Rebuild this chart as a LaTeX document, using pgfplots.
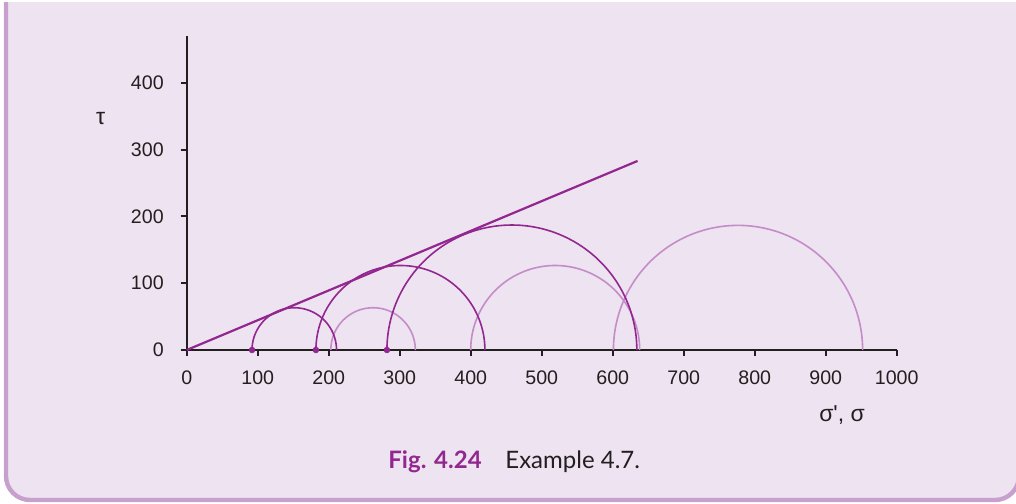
\documentclass[border=0pt]{standalone}
\usepackage{pgfplots}
\pgfplotsset{compat=1.18}
\usepackage{fontspec}
\setmainfont{Liberation Sans}
\newfontfamily\rawsans{Liberation Sans}
\newfontfamily\capfont{Lato}
\definecolor{bg}{RGB}{238,227,240}
\definecolor{frame}{RGB}{200,160,205}
\definecolor{dpurple}{RGB}{146,39,143}
\definecolor{lpurple}{RGB}{196,140,200}
\definecolor{axcol}{RGB}{35,31,32}
\begin{document}
\begin{tikzpicture}[x=1bp,y=1bp]
\useasboundingbox (0,0) rectangle (508,251.5);
\fill[white] (0,0) rectangle (508,251.5);
\begin{scope}
\clip (0,0) rectangle (508,250.3);
\filldraw[fill=bg, draw=frame, line width=2.2bp, rounded corners=12bp]
  (3,260) -- (3,1.5) -- (509.5,1.5) -- (509.5,260);
\end{scope}
\begin{axis}[
  at={(93.35bp,76.5bp)}, anchor=south west,
  scale only axis, width=355bp, height=157bp,
  xmin=0, xmax=1000, ymin=0, ymax=470,
  axis lines=left,
  axis line style={-, line width=1.1bp, axcol},
  xtick={0,100,...,1000}, ytick={0,100,...,400},
  tick align=outside, major tick length=3bp,
  tick style={line width=1bp, axcol},
  /pgf/number format/assume math mode=true,
  /pgf/number format/1000 sep={},
  tick label style={font=\fontsize{9.8bp}{11bp}\selectfont, text=axcol},
  xticklabel style={yshift=-4bp},
  yticklabel style={xshift=-5bp},
  xlabel={\rawsans σ', σ}, ylabel={τ},
  every axis x label/.style={at={(axis description cs:0.923,-0.207)}, anchor=center, font=\fontsize{11.5bp}{13bp}\selectfont, text=axcol},
  every axis y label/.style={at={(axis description cs:-0.121,0.738)}, anchor=center, font=\fontsize{11.5bp}{13bp}\selectfont, text=axcol},
  clip=false,
]
% Mohr circles (total stress), drawn as circles on paper
\addplot[lpurple, line width=0.8bp, domain=0:180, samples=91] ({262.5+59.5*cos(x)}, {1.063*59.5*sin(x)});
\addplot[lpurple, line width=0.8bp, domain=0:180, samples=91] ({519+119*cos(x)}, {1.063*119*sin(x)});
\addplot[lpurple, line width=0.8bp, domain=0:180, samples=91] ({776.5+175.5*cos(x)}, {1.063*175.5*sin(x)});
% Mohr circles (effective stress)
\addplot[dpurple, line width=0.8bp, domain=0:180, samples=91] ({151.5+59.5*cos(x)}, {1.063*59.5*sin(x)});
\addplot[dpurple, line width=0.8bp, domain=0:180, samples=91] ({301+119*cos(x)}, {1.063*119*sin(x)});
\addplot[dpurple, line width=0.8bp, domain=0:180, samples=91] ({458+176*cos(x)}, {1.063*176*sin(x)});
% failure envelope
\addplot[dpurple, line width=1.1bp] coordinates {(0,0) (635,283)};
% sigma'3 points
\addplot[only marks, mark=*, mark size=1.4bp, dpurple] coordinates {(92,0) (182,0) (282,0)};
\end{axis}
\node[anchor=base west, inner sep=0pt, font=\capfont\bfseries\fontsize{12bp}{14bp}\selectfont, text=dpurple] at (194,17.5) {Fig. 4.24};
\node[anchor=base west, inner sep=0pt, font=\capfont\fontsize{12bp}{14bp}\selectfont, text=axcol] at (252.5,17.5) {Example 4.7.};
\end{tikzpicture}
\end{document}
